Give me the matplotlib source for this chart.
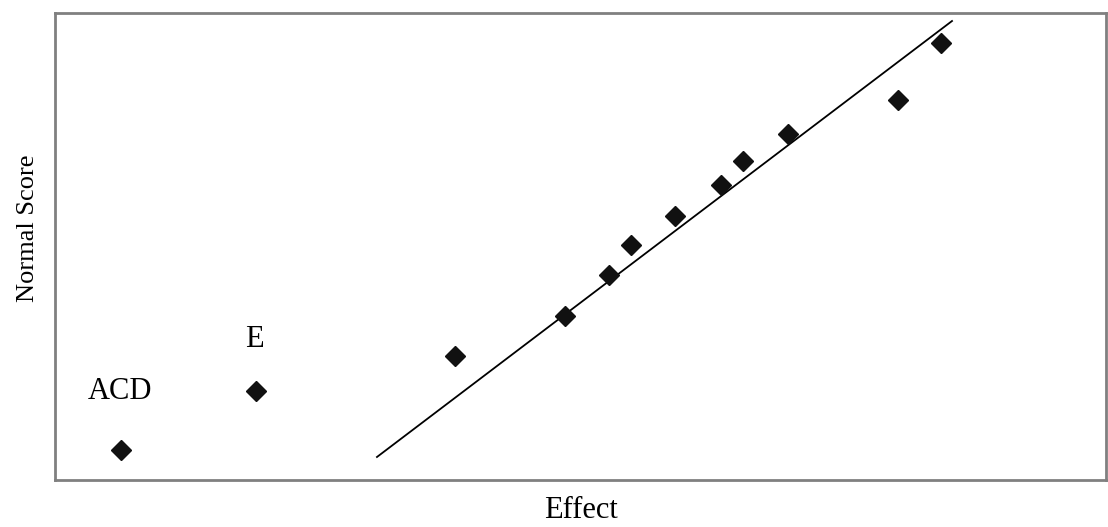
import matplotlib.pyplot as plt

# effects (x) and normal scores (y)
effect = [0.66, 2.01, 4.00, 5.10, 5.54, 5.76, 6.20, 6.66, 6.88, 7.33, 8.43, 8.86]
normal_score = [0.30, 0.89, 1.24, 1.64, 2.05, 2.35, 2.64, 2.95, 3.19, 3.46, 3.80, 4.37]

# reference line end points
line_x = [3.22, 8.97]
line_y = [0.23, 4.59]

# labelled effects
labels = ['ACD', 'E']
label_x = [0.65, 1.99]
label_y = [0.88, 1.40]

plt.rcParams['font.family'] = 'Liberation Serif'

fig = plt.figure(figsize=(11.08, 5.27), dpi=100)
ax = fig.add_axes([0.0496, 0.0892, 0.9486, 0.8861])

ax.plot(line_x, line_y, color='black', linewidth=1.3)
ax.plot(effect, normal_score, linestyle='none', marker='D', markersize=10,
        color='#111111')

for lab, x, y in zip(labels, label_x, label_y):
    ax.text(x, y, lab, fontsize=22, ha='center', va='center')

ax.set_xlim(0, 10.51)
ax.set_ylim(0, 4.67)
ax.set_xticks([])
ax.set_yticks([])
for s in ax.spines.values():
    s.set_color('#808080')
    s.set_linewidth(2)

ax.set_xlabel('Effect', fontsize=22)
ax.xaxis.set_label_coords(0.5, -0.035)
ax.set_ylabel('Normal Score', fontsize=19)
ax.yaxis.set_label_coords(-0.015, 0.54)

fig.savefig('out.png', dpi=100)
